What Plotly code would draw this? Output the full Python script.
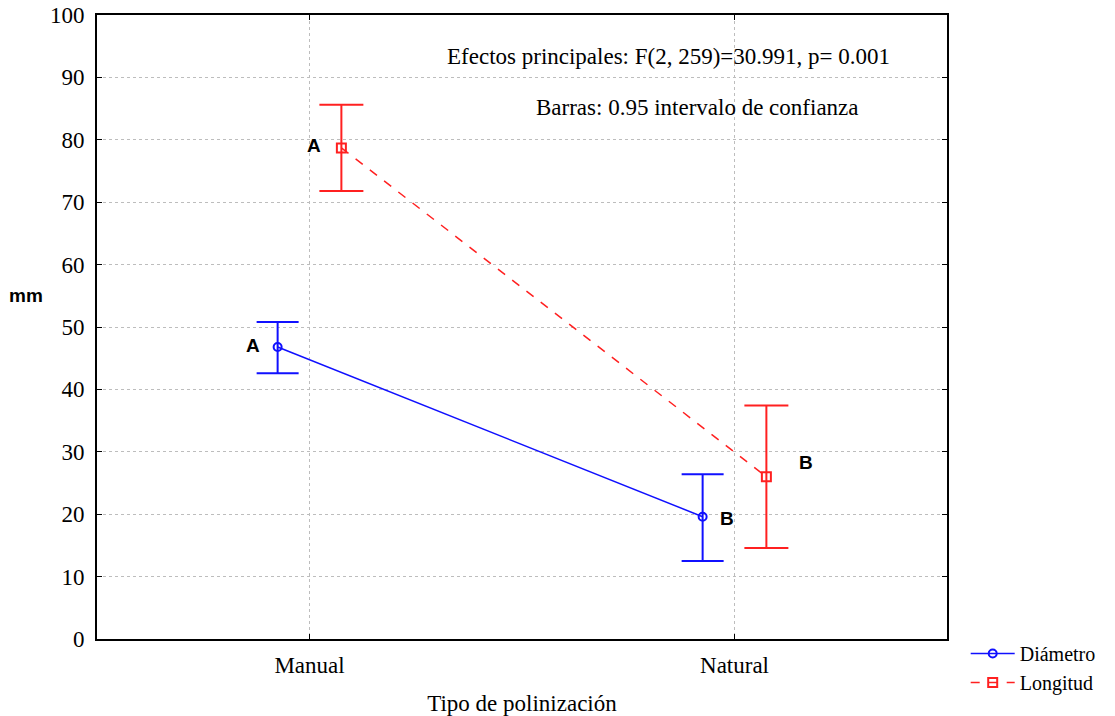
import plotly.graph_objects as go

categories = ["Manual", "Natural"]
diametro_mean = [46.8, 19.6]
diametro_up = [4.0, 6.8]
diametro_down = [4.2, 7.1]
longitud_mean = [78.7, 26.0]
longitud_up = [6.9, 11.4]
longitud_down = [6.9, 11.4]
y_ticks = list(range(0, 101, 10))

serif = "Liberation Serif, Times New Roman, serif"
blue = "#1010ff"
red = "#ff2020"
FS = 23

fig = go.Figure()
fig.add_trace(go.Scatter(
    x=categories, y=diametro_mean, name="Diámetro", mode="lines+markers",
    line=dict(color=blue, width=1.5),
    marker=dict(symbol="circle-open", size=8, color=blue, line=dict(width=2)),
    error_y=dict(type="data", array=diametro_up, arrayminus=diametro_down,
                 color=blue, thickness=2, width=21),
))
fig.add_trace(go.Scatter(
    x=categories, y=longitud_mean, name="Longitud", mode="lines+markers",
    line=dict(color=red, width=1.5, dash="dash"),
    marker=dict(symbol="square-open", size=9, color=red, line=dict(width=2)),
    error_y=dict(type="data", array=longitud_up, arrayminus=longitud_down,
                 color=red, thickness=2, width=22),
))

letter_font = dict(family="Liberation Sans, Arial Black, sans-serif", size=19, color="black")
fig.add_annotation(x=0, y=diametro_mean[0], text="<b>A</b>", showarrow=False,
                   xanchor="right", xshift=-48, yshift=1, font=letter_font)
fig.add_annotation(x=0, y=longitud_mean[0], text="<b>A</b>", showarrow=False,
                   xanchor="right", xshift=13, yshift=2, font=letter_font)
fig.add_annotation(x=1, y=diametro_mean[1], text="<b>B</b>", showarrow=False,
                   xanchor="left", xshift=-17, yshift=-2, font=letter_font)
fig.add_annotation(x=1, y=longitud_mean[1], text="<b>B</b>", showarrow=False,
                   xanchor="left", xshift=62, yshift=14, font=letter_font)

fig.add_annotation(xref="paper", yref="paper", x=0.672, y=0.934, xanchor="center",
                   yanchor="middle",
                   text="Efectos principales: F(2, 259)=30.991, p= 0.001",
                   showarrow=False, font=dict(family=serif, size=FS, color="black"))
fig.add_annotation(xref="paper", yref="paper", x=0.706, y=0.851, xanchor="center",
                   yanchor="middle",
                   text="Barras: 0.95 intervalo de confianza",
                   showarrow=False, font=dict(family=serif, size=FS, color="black"))
fig.add_annotation(xref="paper", yref="paper", x=-0.084, y=0.55, xanchor="center",
                   yanchor="middle",
                   text="<b>mm</b>", showarrow=False,
                   font=dict(family="Liberation Sans, Arial, sans-serif", size=19, color="black"))

fig.update_layout(
    width=1115, height=716,
    margin=dict(l=97, r=168, t=15, b=77, autoexpand=False),
    paper_bgcolor="white", plot_bgcolor="white",
    scattermode="group", scattergap=0.7,
    font=dict(family=serif, size=FS, color="black"),
    showlegend=True,
    legend=dict(x=1.022, y=0.008, xanchor="left", yanchor="top",
                font=dict(family=serif, size=20), tracegroupgap=0,
                itemwidth=44, bgcolor="rgba(0,0,0,0)"),
    xaxis=dict(
        type="category", range=[-0.5, 1.5], automargin=False,
        showline=True, linecolor="black", linewidth=2, mirror="ticks",
        ticks="inside", ticklen=5, tickcolor="black",
        showgrid=True, gridcolor="#bdbdbd", griddash="dot", gridwidth=1,
        title=dict(text="Tipo de polinización", standoff=20,
                   font=dict(family=serif, size=FS)),
        tickfont=dict(family=serif, size=FS),
        ticklabelstandoff=4,
        zeroline=False,
    ),
    yaxis=dict(
        range=[0, 100], tickvals=y_ticks, automargin=False,
        showline=True, linecolor="black", linewidth=2, mirror="ticks",
        ticks="inside", ticklen=5, tickcolor="black",
        showgrid=True, gridcolor="#bdbdbd", griddash="dot", gridwidth=1,
        tickfont=dict(family=serif, size=FS),
        ticklabelstandoff=6,
        zeroline=False,
    ),
)

fig.write_html("out.html")
